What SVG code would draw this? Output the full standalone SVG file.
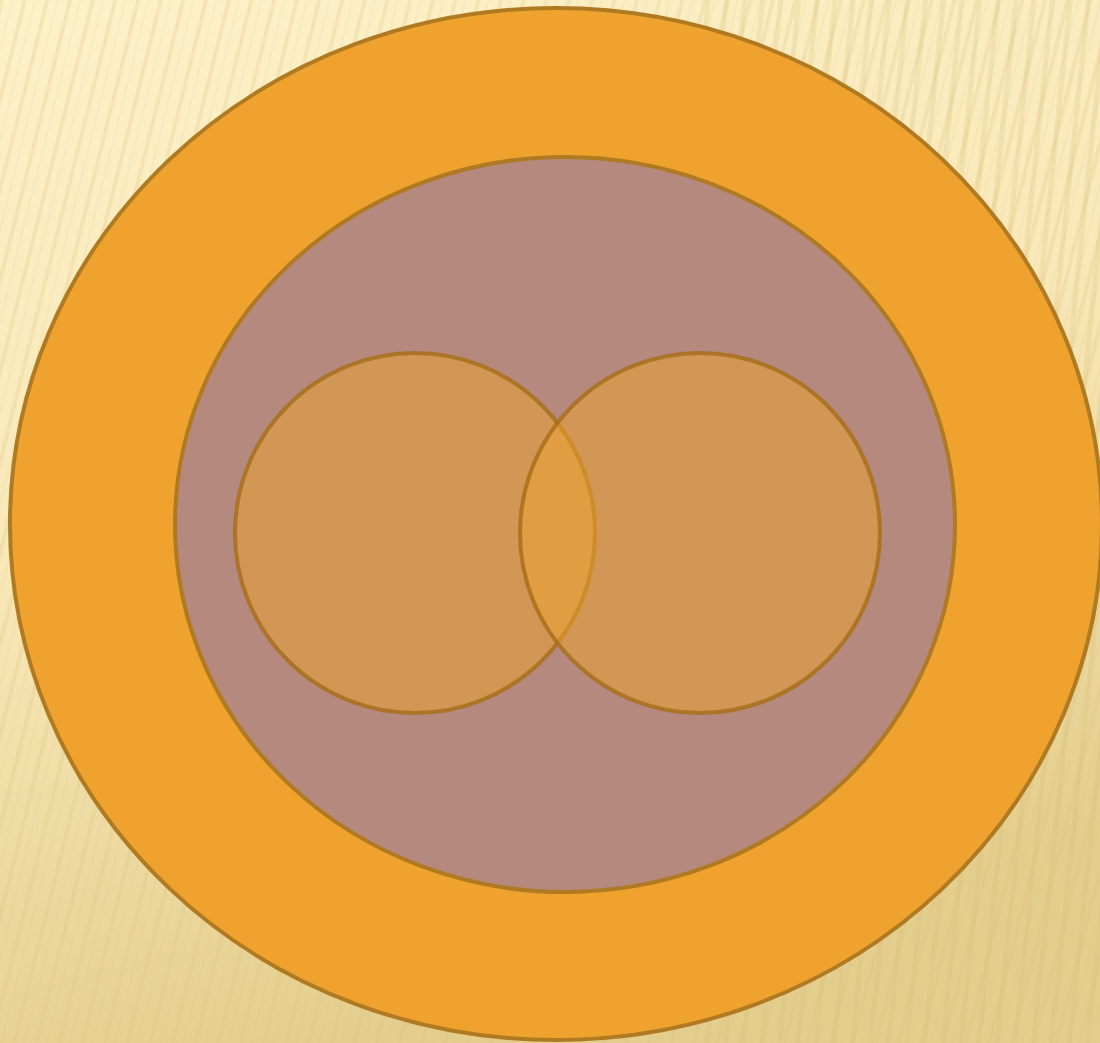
<svg xmlns="http://www.w3.org/2000/svg" width="1100" height="1043" viewBox="0 0 1100 1043">
<defs>
<linearGradient id="bg" x1="0" y1="0" x2="0.3" y2="1">
<stop offset="0" stop-color="#FDF1C8"/>
<stop offset="0.5" stop-color="#F9E8B8"/>
<stop offset="1" stop-color="#E4CE8E"/>
</linearGradient>
<pattern id="stripesL" width="22" height="40" patternUnits="userSpaceOnUse" patternTransform="rotate(14)">
<rect x="0" y="0" width="4" height="40" fill="#D9C07A" opacity="0.22"/>
<rect x="11" y="0" width="2" height="40" fill="#D9C07A" opacity="0.12"/>
</pattern>
<pattern id="stripesR" width="18" height="40" patternUnits="userSpaceOnUse" patternTransform="rotate(6)">
<rect x="0" y="0" width="5" height="40" fill="#D2B66C" opacity="0.25"/>
</pattern>
<style>
.ring{stroke:#B07A22;stroke-width:4}
.small{fill:#EFA32E;fill-opacity:0.5;stroke:#A8701A;stroke-opacity:0.85;stroke-width:4}
</style>
</defs>
<g id="background">
<rect width="1100" height="1043" fill="url(#bg)"/>
<rect width="1100" height="1043" fill="url(#stripesL)"/>
<rect x="700" width="400" height="1043" fill="url(#stripesR)" opacity="0.8"/>
</g>
<g id="outer">
<ellipse class="ring" cx="556" cy="524" rx="546" ry="516" fill="#EFA32E"/>
</g>
<g id="inner">
<ellipse class="ring" cx="565" cy="524.5" rx="390" ry="367.5" fill="#B5897D"/>
</g>
<g id="left-circle">
<circle class="small" cx="415" cy="533" r="180"/>
</g>
<g id="right-circle">
<circle class="small" cx="700" cy="533" r="180"/>
</g>
<g id="connectors"></g>
</svg>
